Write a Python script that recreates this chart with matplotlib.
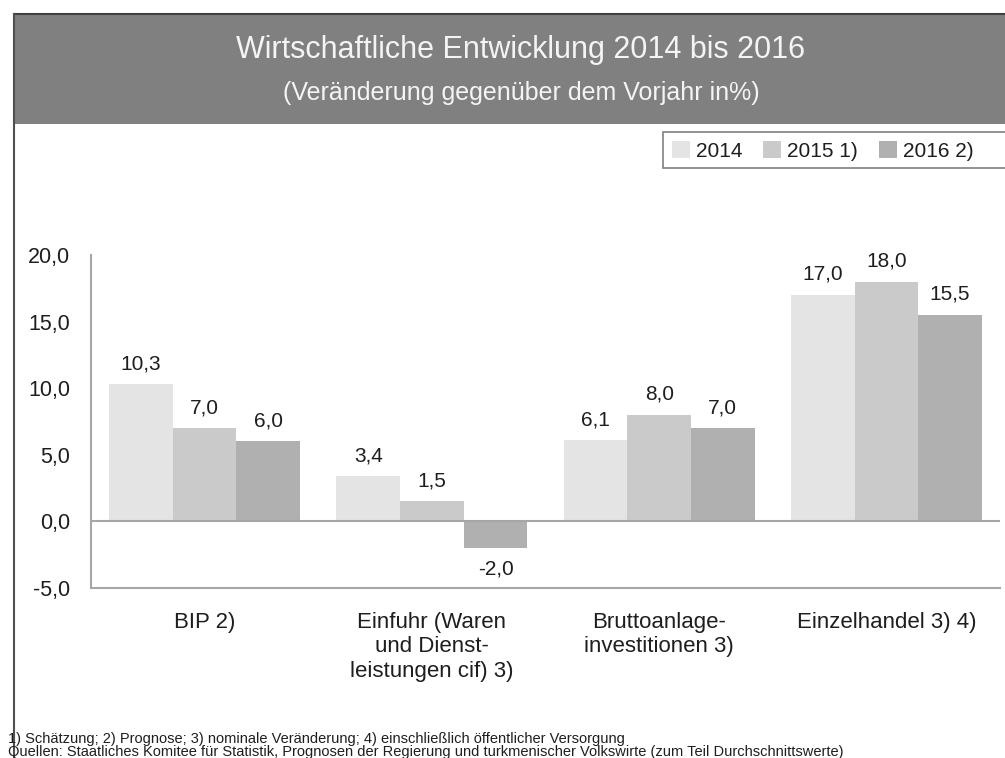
import matplotlib
matplotlib.use("Agg")
import matplotlib.pyplot as plt
from matplotlib.patches import Rectangle
from matplotlib.lines import Line2D
import numpy as np

plt.rcParams['font.family'] = ['Liberation Sans', 'DejaVu Sans']

categories = ["BIP 2)", "Einfuhr (Waren\nund Dienst-\nleistungen cif) 3)",
              "Bruttoanlage-\ninvestitionen 3)", "Einzelhandel 3) 4)"]
series_names = ["2014", "2015 1)", "2016 2)"]
values_2014 = [10.3, 3.4, 6.1, 17.0]
values_2015 = [7.0, 1.5, 8.0, 18.0]
values_2016 = [6.0, -2.0, 7.0, 15.5]
yticks = [-5.0, 0.0, 5.0, 10.0, 15.0, 20.0]
title = "Wirtschaftliche Entwicklung 2014 bis 2016"
subtitle = "(Veränderung gegenüber dem Vorjahr in%)"
foot1 = "1) Schätzung; 2) Prognose; 3) nominale Veränderung; 4) einschließlich öffentlicher Versorgung"
foot2 = "Quellen: Staatliches Komitee für Statistik, Prognosen der Regierung und turkmenischer Volkswirte (zum Teil Durchschnittswerte)"

colors = ["#e4e4e4", "#cacaca", "#b0b0b0"]
txt = "#1e1e1e"
axis_gray = "#a6a6a6"

W, H = 1005, 758
fig = plt.figure(figsize=(W / 100, H / 100), dpi=100)

def fx(px):
    return px / W

def fy(py):
    return 1 - py / H

# header band and frame
fig.patches.append(Rectangle((fx(14), fy(124)), fx(W - 14), fy(14) - fy(124),
                             transform=fig.transFigure, facecolor="#808080",
                             edgecolor="none", zorder=0))
fig.add_artist(Line2D([fx(14), 1], [fy(14), fy(14)], color="#404040", lw=1.5,
                      transform=fig.transFigure))
fig.add_artist(Line2D([fx(14), fx(14)], [fy(14), 0], color="#505050", lw=1.5,
                      transform=fig.transFigure))
fig.text(fx(521), fy(50), title, ha="center", va="center", fontsize=22, color="#f4f4f4")
fig.text(fx(521), fy(93), subtitle, ha="center", va="center", fontsize=18, color="#f4f4f4")

ax = fig.add_axes([fx(91), fy(588), fx(1000) - fx(91), fy(255) - fy(588)])
x = np.arange(len(categories))
bw = 0.28
all_vals = [values_2014, values_2015, values_2016]
bars = []
for i, (vals, name, c) in enumerate(zip(all_vals, series_names, colors)):
    b = ax.bar(x + (i - 1) * bw, vals, bw, color=c, label=name, zorder=2)
    bars.append(b)
    ax.bar_label(b, labels=[f"{v:.1f}".replace(".", ",") for v in vals],
                 padding=8, fontsize=15, color=txt)

ax.set_xlim(-0.5, 3.5)
ax.set_ylim(-5, 20)
ax.set_yticks(yticks)
ax.set_yticklabels([f"{v:.1f}".replace(".", ",") for v in yticks], fontsize=15.5, color=txt)
ax.set_xticks(x)
ax.set_xticklabels(categories, fontsize=16, color=txt, linespacing=1.22, va="top")
ax.tick_params(axis="y", length=0, pad=15)
ax.tick_params(axis="x", length=0, pad=17)
ax.axhline(0, color=axis_gray, lw=1.5, zorder=3)
for s in ["top", "right"]:
    ax.spines[s].set_visible(False)
for s in ["left", "bottom"]:
    ax.spines[s].set_color(axis_gray)
    ax.spines[s].set_linewidth(1.5)

# legend box (extends past the right edge like the reference)
fig.patches.append(Rectangle((fx(663), fy(168)), fx(360), fy(132) - fy(168),
                             transform=fig.transFigure, facecolor="white",
                             edgecolor="#808080", lw=1.2, zorder=1))
leg = fig.legend(handles=bars, labels=series_names, ncol=3, loc="center left",
                 bbox_to_anchor=(fx(672), fy(151)), frameon=False,
                 fontsize=15, handlelength=0.85, handleheight=0.85,
                 handletextpad=0.3, columnspacing=1.0, borderpad=0.0,
                 borderaxespad=0.0, labelcolor=txt)
leg.set_zorder(2)

fig.text(fx(8), fy(739), foot1, ha="left", va="center", fontsize=10.5, color=txt)
fig.text(fx(8), fy(752), foot2, ha="left", va="center", fontsize=10.5, color=txt)

fig.savefig("out.png", dpi=100, facecolor="white")
